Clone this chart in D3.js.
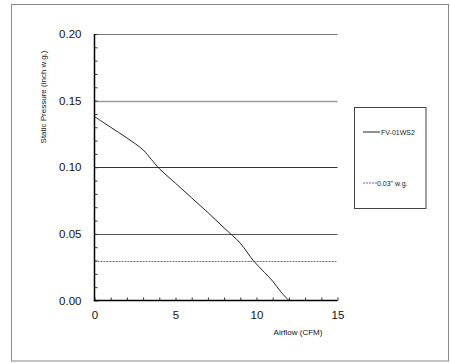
<!DOCTYPE html>
<html>
<head>
<meta charset="utf-8">
<script src="https://cdn.jsdelivr.net/npm/d3@7"></script>
<style>
  html, body { margin: 0; padding: 0; background: #fff; }
  svg { display: block; font-family: "Liberation Sans", Arial, sans-serif; }
</style>
</head>
<body>
<svg id="chart" width="450" height="363"></svg>
<script>
// ---- data ----
const airflow  = [0, 1, 2, 3, 3.5, 4, 5, 6, 7, 8, 9, 9.8, 10.5, 11, 11.5, 12];
const pressure = [0.138, 0.130, 0.122, 0.113, 0.106, 0.099, 0.088, 0.077, 0.066, 0.0545, 0.043, 0.030, 0.021, 0.0145, 0.0065, 0];
const refLevel = [0.03];
const xTicks = [0, 5, 10, 15];
const yTicks = [0.00, 0.05, 0.10, 0.15, 0.20];
const seriesNames = ["FV-01WS2", "0.03\" w.g."];
const xTitle = "Airflow (CFM)";
const yTitle = "Static Pressure (inch w.g.)";

// ---- layout ----
const svg = d3.select("#chart");
const L = 94.5, R = 337.5, T = 34, B = 300.5;
const x = d3.scaleLinear().domain([0, 15]).range([L, R]);
const y = d3.scaleLinear().domain([0, 0.2]).range([B, T]);

// outer border
svg.append("rect").attr("x", 11.5).attr("y", 4.5).attr("width", 437).attr("height", 356.5)
  .attr("fill", "none").attr("stroke", "#8a8a8a").attr("stroke-width", 1);

// gridlines
const gridStyle = {"0.05": ["#555", 1], "0.10": ["#333", 1], "0.15": ["#9a9a9a", 1.5], "0.20": ["#777", 1]};
svg.append("g").selectAll("line").data(yTicks.filter(d => d > 0)).join("line")
  .attr("x1", L).attr("x2", R)
  .attr("y1", d => Math.round(y(d)) + 0.5).attr("y2", d => Math.round(y(d)) + 0.5)
  .attr("stroke", d => gridStyle[d.toFixed(2)][0])
  .attr("stroke-width", d => gridStyle[d.toFixed(2)][1]);

// reference dotted line
svg.append("line")
  .attr("x1", L).attr("x2", R)
  .attr("y1", Math.round(y(refLevel[0])) + 0.5).attr("y2", Math.round(y(refLevel[0])) + 0.5)
  .attr("stroke", "#5668e0").attr("stroke-width", 1).attr("stroke-dasharray", "2,1");

// curve
const line = d3.line().x((d, i) => x(airflow[i])).y(d => y(d)).curve(d3.curveCatmullRom.alpha(0.5));
svg.append("path").datum(pressure).attr("d", line)
  .attr("fill", "none").attr("stroke", "#222").attr("stroke-width", 1);

// y axis with minor ticks inside
const yAxis = d3.axisRight(y).tickValues(d3.range(0, 0.2001, 0.01)).tickSize(3).tickFormat("");
const gy = svg.append("g").attr("transform", `translate(${L},0)`).call(yAxis);
gy.select(".domain").remove();
gy.selectAll("line").attr("stroke", "#333");
svg.append("line").attr("x1", L).attr("x2", L).attr("y1", T).attr("y2", B + 0.5)
  .attr("stroke", "#000").attr("stroke-width", 1.5);

// y tick labels
const gyl = svg.append("g").attr("transform", `translate(${L},0)`)
  .call(d3.axisLeft(y).tickValues(yTicks).tickSize(0).tickPadding(13).tickFormat(d3.format(".2f")));
gyl.select(".domain").remove();
gyl.selectAll("text").attr("font-size", 11.5).attr("fill", "#111");

// x axis ticks (upward)
const xAxis = d3.axisTop(x).tickValues(d3.range(0, 15.001, 1)).tickSize(3).tickFormat("");
const gx = svg.append("g").attr("transform", `translate(0,${B})`).call(xAxis);
gx.select(".domain").remove();
gx.selectAll("line").attr("stroke", "#333");
svg.append("line").attr("x1", L - 0.75).attr("x2", R).attr("y1", B).attr("y2", B)
  .attr("stroke", "#000").attr("stroke-width", 1.5);

// x tick labels
const gxl = svg.append("g").attr("transform", `translate(0,${B})`)
  .call(d3.axisBottom(x).tickValues(xTicks).tickSize(0).tickPadding(10).tickFormat(d3.format("d")));
gxl.select(".domain").remove();
gxl.selectAll("text").attr("font-size", 11.5).attr("fill", "#111");

// axis titles
svg.append("text").attr("x", 298).attr("y", 335).attr("text-anchor", "middle")
  .attr("font-size", 8).attr("fill", "#111").text(xTitle);
svg.append("text").attr("transform", "translate(46,97) rotate(-90)").attr("text-anchor", "middle")
  .attr("font-size", 8).attr("fill", "#111").text(yTitle);

// legend
svg.append("rect").attr("x", 354.5).attr("y", 107.5).attr("width", 71.5).attr("height", 101)
  .attr("fill", "#fff").attr("stroke", "#444").attr("stroke-width", 1);
const leg = svg.append("g");
leg.append("line").attr("x1", 363).attr("x2", 380).attr("y1", 132).attr("y2", 132)
  .attr("stroke", "#222").attr("stroke-width", 1);
leg.append("text").attr("x", 381).attr("y", 134.5).attr("font-size", 7).attr("fill", "#222").text(seriesNames[0]);
leg.append("line").attr("x1", 363).attr("x2", 377).attr("y1", 183).attr("y2", 183)
  .attr("stroke", "#5668e0").attr("stroke-width", 1).attr("stroke-dasharray", "2,1");
leg.append("text").attr("x", 377).attr("y", 185.5).attr("font-size", 7).attr("fill", "#222").text(seriesNames[1]);
</script>
</body>
</html>
